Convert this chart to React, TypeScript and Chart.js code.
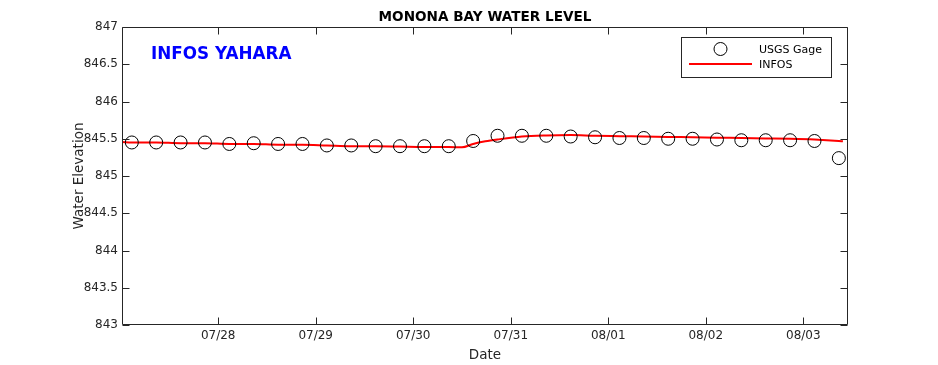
import React, { useEffect, useRef } from 'react';
import { Chart, registerables } from 'chart.js';

Chart.register(...registerables);

const TITLE = 'MONONA BAY WATER LEVEL';
const ANNOTATION = 'INFOS YAHARA';
const X_TITLE = 'Date';
const Y_TITLE = 'Water Elevation';

const X_TICK_DATES = ['07/28', '07/29', '07/30', '07/31', '08/01', '08/02', '08/03'];
const X_RANGE = ['07/27 00:20', '08/03 11:00'];
const Y_MIN = 843;
const Y_MAX = 847;
const Y_STEP = 0.5;

const GAGE_LABEL = 'USGS Gage';
const GAGE_TIMES = [
  '07/27 02:45', '07/27 08:45', '07/27 14:45', '07/27 20:45',
  '07/28 02:45', '07/28 08:45', '07/28 14:45', '07/28 20:45',
  '07/29 02:45', '07/29 08:45', '07/29 14:45', '07/29 20:45',
  '07/30 02:45', '07/30 08:45', '07/30 14:45', '07/30 20:45',
  '07/31 02:45', '07/31 08:45', '07/31 14:45', '07/31 20:45',
  '08/01 02:45', '08/01 08:45', '08/01 14:45', '08/01 20:45',
  '08/02 02:45', '08/02 08:45', '08/02 14:45', '08/02 20:45',
  '08/03 02:45', '08/03 08:45',
];
const GAGE_VALUES = [
  845.45, 845.45, 845.45, 845.45,
  845.43, 845.44, 845.43, 845.43,
  845.41, 845.41, 845.40, 845.40,
  845.40, 845.40, 845.47, 845.54,
  845.54, 845.54, 845.53, 845.52,
  845.51, 845.51, 845.50, 845.50,
  845.49, 845.48, 845.48, 845.48,
  845.47, 845.24,
];

const INFOS_LABEL = 'INFOS';
const INFOS_TIMES = [
  '07/27 00:20', '07/27 02:45', '07/27 08:45', '07/27 14:45', '07/27 20:45',
  '07/28 02:45', '07/28 08:45', '07/28 14:45', '07/28 20:45',
  '07/29 02:45', '07/29 08:45', '07/29 14:45', '07/29 20:45',
  '07/30 02:45', '07/30 08:45', '07/30 12:00', '07/30 14:45', '07/30 17:45', '07/30 20:45',
  '07/31 02:45', '07/31 08:45', '07/31 14:45', '07/31 20:45',
  '08/01 02:45', '08/01 08:45', '08/01 14:45', '08/01 20:45',
  '08/02 02:45', '08/02 08:45', '08/02 14:45', '08/02 20:45',
  '08/03 02:45', '08/03 08:45', '08/03 09:45',
];
const INFOS_VALUES = [
  845.455, 845.45, 845.45, 845.44, 845.44,
  845.43, 845.43, 845.42, 845.42,
  845.41, 845.40, 845.40, 845.395,
  845.39, 845.39, 845.385, 845.43, 845.465, 845.49,
  845.53, 845.545, 845.55, 845.54,
  845.535, 845.53, 845.525, 845.52,
  845.515, 845.51, 845.505, 845.50,
  845.49, 845.47, 845.465,
];

const FONT = "'DejaVu Sans', sans-serif";
const AXIS_COLOR = '#262626';

function toDays(s: string): number {
  const [date, time = '00:00'] = s.split(' ');
  const [mm, dd] = date.split('/').map(Number);
  const [hh, mi] = time.split(':').map(Number);
  const dayIndex = mm === 7 ? dd - 27 : 31 - 27 + dd;
  return dayIndex + hh / 24 + mi / 1440;
}

const decorPlugin = {
  id: 'decor',
  afterDraw(chart: any) {
    const ctx = chart.ctx as CanvasRenderingContext2D;
    const { left, right, top, bottom } = chart.chartArea;
    const xs = chart.scales.x;
    const ys = chart.scales.y;
    const L = Math.round(left) + 0.5;
    const R = Math.round(right) - 0.5;
    const T = Math.round(top) + 0.5;
    const B = Math.round(bottom) - 0.5;
    const tick = 7;
    ctx.save();
    ctx.strokeStyle = AXIS_COLOR;
    ctx.lineWidth = 1;
    ctx.beginPath();
    ctx.rect(L, T, R - L, B - T);
    xs.ticks.forEach((t: any) => {
      const px = Math.round(xs.getPixelForValue(t.value)) + 0.5;
      ctx.moveTo(px, B);
      ctx.lineTo(px, B - tick);
      ctx.moveTo(px, T);
      ctx.lineTo(px, T + tick);
    });
    ys.ticks.forEach((t: any) => {
      const py = Math.round(ys.getPixelForValue(t.value)) + 0.5;
      ctx.moveTo(L, py);
      ctx.lineTo(L + tick, py);
      ctx.moveTo(R, py);
      ctx.lineTo(R - tick, py);
    });
    ctx.stroke();

    // title
    ctx.fillStyle = '#000';
    ctx.font = `bold 13.6px ${FONT}`;
    ctx.textAlign = 'center';
    ctx.textBaseline = 'alphabetic';
    ctx.fillText(TITLE, (left + right) / 2, 20.5);

    // axis titles
    ctx.fillStyle = AXIS_COLOR;
    ctx.font = `13.5px ${FONT}`;
    ctx.fillText(X_TITLE, (left + right) / 2, 359);
    ctx.save();
    ctx.translate(83, (top + bottom) / 2);
    ctx.rotate(-Math.PI / 2);
    ctx.fillText(Y_TITLE, 0, 0);
    ctx.restore();

    // annotation
    ctx.fillStyle = '#0000ff';
    ctx.font = `bold 16.8px ${FONT}`;
    ctx.textAlign = 'left';
    ctx.fillText(ANNOTATION, 151, 59);

    // legend
    const bx = 681.5, by = 37.5, bw = 150, bh = 40;
    ctx.fillStyle = '#fff';
    ctx.fillRect(bx, by, bw, bh);
    ctx.strokeStyle = AXIS_COLOR;
    ctx.lineWidth = 1;
    ctx.strokeRect(bx, by, bw, bh);
    const dsG = chart.data.datasets[0];
    const dsI = chart.data.datasets[1];
    ctx.beginPath();
    ctx.arc(720.5, 49, dsG.pointRadius, 0, Math.PI * 2);
    ctx.strokeStyle = dsG.pointBorderColor;
    ctx.lineWidth = dsG.pointBorderWidth;
    ctx.stroke();
    ctx.beginPath();
    ctx.moveTo(689, 64);
    ctx.lineTo(752, 64);
    ctx.strokeStyle = dsI.borderColor;
    ctx.lineWidth = dsI.borderWidth;
    ctx.stroke();
    ctx.fillStyle = '#000';
    ctx.font = `11px ${FONT}`;
    ctx.textAlign = 'left';
    ctx.fillText(dsG.label, 759, 52.5);
    ctx.fillText(dsI.label, 759, 68.3);
    ctx.restore();
  },
};

export default function App() {
  const ref = useRef<HTMLCanvasElement | null>(null);
  useEffect(() => {
    if (!ref.current) return;
    const chart = new Chart(ref.current, {
      type: 'scatter',
      data: {
        datasets: [
          {
            label: GAGE_LABEL,
            data: GAGE_TIMES.map((t, i) => ({ x: toDays(t), y: GAGE_VALUES[i] })),
            showLine: false,
            pointStyle: 'circle',
            pointRadius: 6.5,
            pointHoverRadius: 6.5,
            pointBorderWidth: 1,
            pointBorderColor: '#000000',
            pointBackgroundColor: 'rgba(0,0,0,0)',
            order: 0,
          },
          {
            label: INFOS_LABEL,
            data: INFOS_TIMES.map((t, i) => ({ x: toDays(t), y: INFOS_VALUES[i] })),
            showLine: true,
            borderColor: '#ff0000',
            backgroundColor: '#ff0000',
            borderWidth: 2,
            pointRadius: 0,
            cubicInterpolationMode: 'monotone',
            order: 1,
          },
        ],
      } as any,
      options: {
        animation: false,
        responsive: false,
        devicePixelRatio: 1,
        events: [],
        layout: { padding: { top: 27, right: 90, left: 0, bottom: 0 } },
        plugins: { legend: { display: false }, title: { display: false }, tooltip: { enabled: false } },
        scales: {
          x: {
            type: 'linear',
            min: toDays(X_RANGE[0]),
            max: toDays(X_RANGE[1]),
            afterBuildTicks: (s: any) => {
              s.ticks = X_TICK_DATES.map((d) => ({ value: toDays(d) }));
            },
            afterFit: (s: any) => {
              s.height = 40;
            },
            grid: { display: false, drawTicks: false, tickLength: 0 },
            border: { display: false },
            ticks: {
              autoSkip: false,
              maxRotation: 0,
              padding: 4,
              color: AXIS_COLOR,
              font: { family: FONT, size: 12 },
              callback: (v: any) => {
                const i = X_TICK_DATES.findIndex((d) => Math.abs(toDays(d) - Number(v)) < 1e-6);
                return i >= 0 ? X_TICK_DATES[i] : '';
              },
            },
          },
          y: {
            type: 'linear',
            min: Y_MIN,
            max: Y_MAX,
            afterFit: (s: any) => {
              s.width = 122;
            },
            grid: { display: false, drawTicks: false, tickLength: 0 },
            border: { display: false },
            ticks: {
              stepSize: Y_STEP,
              padding: 4,
              color: AXIS_COLOR,
              font: { family: FONT, size: 12 },
              callback: (v: any) => String(Math.round(Number(v) * 10) / 10),
            },
          },
        },
      } as any,
      plugins: [decorPlugin],
    });
    return () => chart.destroy();
  }, []);
  return (
    <div style={{ position: 'absolute', left: 0, top: 0, width: 938, height: 365, background: '#fff' }}>
      <canvas ref={ref} width={938} height={365} style={{ width: 938, height: 365, display: 'block' }} />
    </div>
  );
}
